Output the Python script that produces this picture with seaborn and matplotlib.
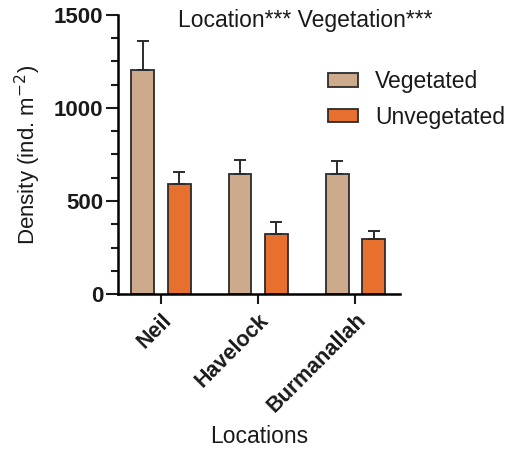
import numpy as np
import pandas as pd
import matplotlib
matplotlib.use("Agg")
import matplotlib.pyplot as plt
import seaborn as sns
from matplotlib.ticker import MultipleLocator

locations = ["Neil", "Havelock", "Burmanallah"]
vegetations = ["Vegetated", "Unvegetated"]
vegetated_mean = [1206, 647, 645]
vegetated_err = [152, 72, 72]
unvegetated_mean = [593, 323, 297]
unvegetated_err = [61, 64, 40]
yticks = [0, 500, 1000, 1500]

df = pd.DataFrame({
    "Location": locations * 2,
    "Vegetation": ["Vegetated"] * 3 + ["Unvegetated"] * 3,
    "Density": vegetated_mean + unvegetated_mean,
})

sns.set_style("ticks")
plt.rcParams["font.family"] = ["Liberation Sans", "DejaVu Sans"]
for k in ["text.color", "axes.labelcolor", "xtick.color", "ytick.color"]:
    plt.rcParams[k] = "#1a1a1a"

fig = plt.figure(figsize=(5.13, 4.51), dpi=100)
ax = fig.add_axes([0.230, 0.348, 0.550, 0.619])

palette = {"Vegetated": "#CDAA8C", "Unvegetated": "#E8702F"}
sns.barplot(data=df, x="Location", y="Density", hue="Vegetation",
            order=locations, hue_order=vegetations, palette=palette,
            errorbar=None, width=0.75, gap=0.37, edgecolor="#2b2b2b",
            linewidth=1.3, saturation=1, ax=ax)

errs = [vegetated_err, unvegetated_err]
means = [vegetated_mean, unvegetated_mean]
for cont, m, e in zip(ax.containers, means, errs):
    xs = [b.get_x() + b.get_width() / 2 for b in cont]
    ax.errorbar(xs, m, yerr=[np.zeros(len(e)), e], fmt="none",
                ecolor="#2b2b2b", elinewidth=1.4, capsize=4, capthick=1.4,
                zorder=1)

ax.set_ylim(0, 1500)
ax.set_xlim(-0.443, 2.46)
ax.set_yticks(yticks)
ax.yaxis.set_minor_locator(MultipleLocator(125))
ax.tick_params(axis="y", which="major", length=8.5, width=1.5, labelsize=16, pad=2)
ax.tick_params(axis="y", which="minor", length=5, width=1.5)
ax.tick_params(axis="x", which="major", length=7, width=1.5, labelsize=15.5, pad=4)
for lab in ax.get_yticklabels():
    lab.set_fontweight("bold")
for lab in ax.get_xticklabels():
    lab.set_fontweight("bold")
    lab.set_rotation(45)
    lab.set_ha("right")
    lab.set_rotation_mode("anchor")

sns.despine(ax=ax)
for s in ["left", "bottom"]:
    ax.spines[s].set_linewidth(1.8)
    ax.spines[s].set_color("black")

ax.set_ylabel("Density (ind. m$^{-2}$)", fontsize=16, labelpad=8)
ax.set_xlabel("Locations", fontsize=16.5, labelpad=6)

fig.text(0.595, 0.955, "Location*** Vegetation***", ha="center", va="center", fontsize=16.5)

ax.legend(loc="upper left", bbox_to_anchor=(328 / 513, 1 - 70 / 451),
          bbox_transform=fig.transFigure, frameon=False, borderpad=0,
          borderaxespad=0, fontsize=16.5, handlelength=1.3, handleheight=0.52,
          handletextpad=0.75, labelspacing=0.56)

fig.savefig("out.png", dpi=100)
